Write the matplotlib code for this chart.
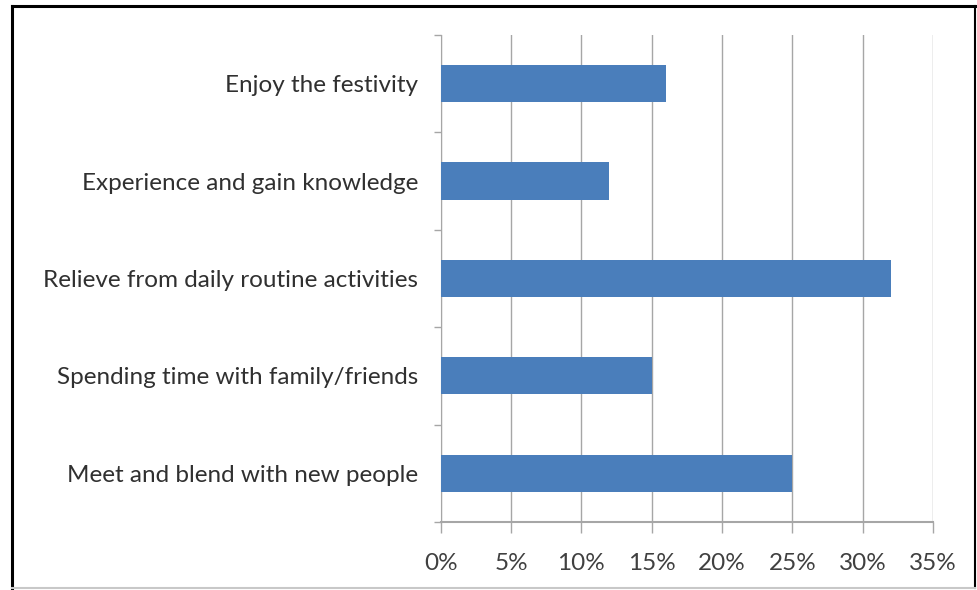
import matplotlib.pyplot as plt
from matplotlib.lines import Line2D
from matplotlib.ticker import FuncFormatter, FixedLocator

plt.rcParams['font.family'] = ['Lato', 'DejaVu Sans']

# survey reasons, bottom to top as drawn
reasons = [
    "Meet and blend with new people",
    "Spending time with family/friends",
    "Relieve from daily routine activities",
    "Experience and gain knowledge",
    "Enjoy the festivity",
]
shares = [0.25, 0.15, 0.32, 0.12, 0.16]
xticks = [0.0, 0.05, 0.10, 0.15, 0.20, 0.25, 0.30, 0.35]

bar_color = "#4a7ebb"
grid_color = "#a6a6a6"

fig = plt.figure(figsize=(9.77, 5.9), dpi=100)
ax = fig.add_axes([0.451, 0.115, 0.504, 0.826])

ypos = list(range(len(reasons)))
ax.barh(ypos, shares, height=0.38, color=bar_color, zorder=3)

ax.set_xlim(0, 0.35)
ax.set_ylim(-0.5, len(reasons) - 0.5)
ax.set_xticks(xticks)
ax.xaxis.set_major_formatter(FuncFormatter(lambda v, _: f"{v * 100:.0f}%"))
ax.grid(axis="x", color=grid_color, linewidth=1.0, zorder=0)

# category labels centred on bars, tick marks on the boundaries
ax.set_yticks(ypos)
ax.set_yticklabels(reasons)
ax.yaxis.set_minor_locator(FixedLocator([i - 0.5 for i in range(len(reasons) + 1)]))
ax.tick_params(axis="y", which="major", length=0, pad=16, labelsize=17.5, labelcolor="#303030")
ax.tick_params(axis="y", which="minor", length=5, color=grid_color, width=1.0)
ax.tick_params(axis="x", length=8, color=grid_color, width=1.0, pad=14,
               labelsize=17.5, labelcolor="#404040")

for side in ("top", "right"):
    ax.spines[side].set_visible(False)
ax.spines["left"].set_color(grid_color)
ax.spines["bottom"].set_color(grid_color)
ax.spines["bottom"].set_linewidth(1.5)

# outer frame around the chart area
frame = [
    ((0.012, 0.012), (0.003, 0.990), "black", 2.2),
    ((0.012, 0.998), (0.990, 0.990), "black", 2.2),
    ((0.998, 0.998), (0.003, 0.990), "black", 1.5),
    ((0.012, 0.998), (0.004, 0.004), "#c8c8c8", 1.5),
]
for xs, ys, col, lw in frame:
    fig.add_artist(Line2D(xs, ys, transform=fig.transFigure, color=col, linewidth=lw))

fig.savefig("out.png", dpi=100)
